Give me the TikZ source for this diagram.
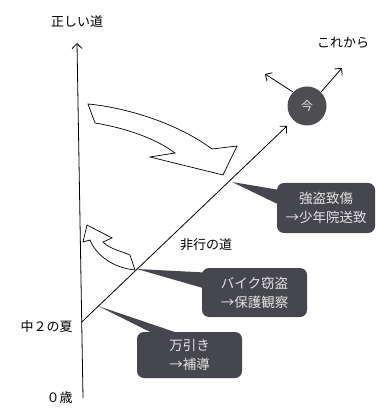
\documentclass[tikz,border=0pt]{standalone}
\usepackage{fontspec}
\setmainfont{Noto Sans CJK JP}
\usetikzlibrary{arrows.meta,calc}
\definecolor{callgray}{HTML}{46464E}
\definecolor{nowgray}{HTML}{4E4E52}
\definecolor{calltext}{HTML}{E4E4E4}
\begin{document}
\begin{tikzpicture}[x=1pt,y=-1pt,line width=0.8pt,
  >={Straight Barb[length=5pt,width=10pt]},
  lab/.style={inner sep=0pt,font=\fontsize{13}{15}\selectfont},
  callout/.style={fill=callgray,rounded corners=7pt,text=calltext,align=center,
    inner sep=0pt,font=\fontsize{13.5}{19}\selectfont},
  wedge/.style={fill=callgray,draw=none},
  bigarrow/.style={draw=black,fill=white,line width=0.7pt,line join=miter}]
\useasboundingbox (0,0) rectangle (379,419);

% axis
\coordinate (ax0) at (83,398);
\coordinate (ax1) at (77,43);
\coordinate (start) at ($(ax0)!0.214!(ax1)$);
\coordinate (tip) at (287,126);
\draw[->] (ax0) -- (ax1);
\draw[->] (start) -- (tip);

% labels
\node[lab] (tl) at (77,22) {正しい道};
\node[lab,anchor=east] (summer) at (73,327) {中２の夏};
\node[lab,anchor=east] (zero) at (73,398) {０歳};
\node[lab] (road) at (206,245) {非行の道};
\node[lab] (future) at (343,43) {これから};

% now circle
\node[circle,fill=nowgray,minimum size=39pt,inner sep=0pt,text=calltext,
  font=\fontsize{12}{14}\selectfont] (now) at (307,106) {今};
\coordinate (ul) at (265,74);
\coordinate (ur) at (342,68);
\draw[->] (now.135) -- (ul);
\draw[->] (now.45) -- (ur);

% curved arrows
\draw[bigarrow] (88,104) -- (95,123) .. controls (125,128) and (155,138) .. (175,153)
  -- (150,157) -- (223,175) -- (237,146) -- (212,149)
  .. controls (180,125) and (130,108) .. (88,104) -- cycle;
\draw[bigarrow] (87,225) -- (112,238) -- (103,242)
  .. controls (111,250) and (122,251) .. (130,255) -- (135,270)
  .. controls (115,268) and (97,257) .. (90,240) -- (83,242) -- cycle;

% points on the road
\coordinate (p1) at (232,182);
\coordinate (p2) at (137,269);
\coordinate (p3) at (98,306);

% callouts
\node[callout,minimum width=98pt,minimum height=50pt] (c1) at (326,208)
  {強盗致傷\\→少年院送致};
\fill[wedge] (p1) -- ($(c1.west)+(3,-18)$) -- ($(c1.west)+(3,-3)$) -- cycle;
\node[callout,minimum width=105pt,minimum height=49pt] (c2) at (254.5,292.5)
  {バイク窃盗\\→保護観察};
\fill[wedge] (p2) -- ($(c2.west)+(3,-20)$) -- ($(c2.west)+(3,-4)$) -- cycle;
\node[callout,minimum width=105pt,minimum height=46pt] (c3) at (189.5,355)
  {万引き\\→補導};
\fill[wedge] (p3) -- ($(c3.north)+(-34,3)$) -- ($(c3.north)+(-7,3)$) -- cycle;
\end{tikzpicture}
\end{document}
